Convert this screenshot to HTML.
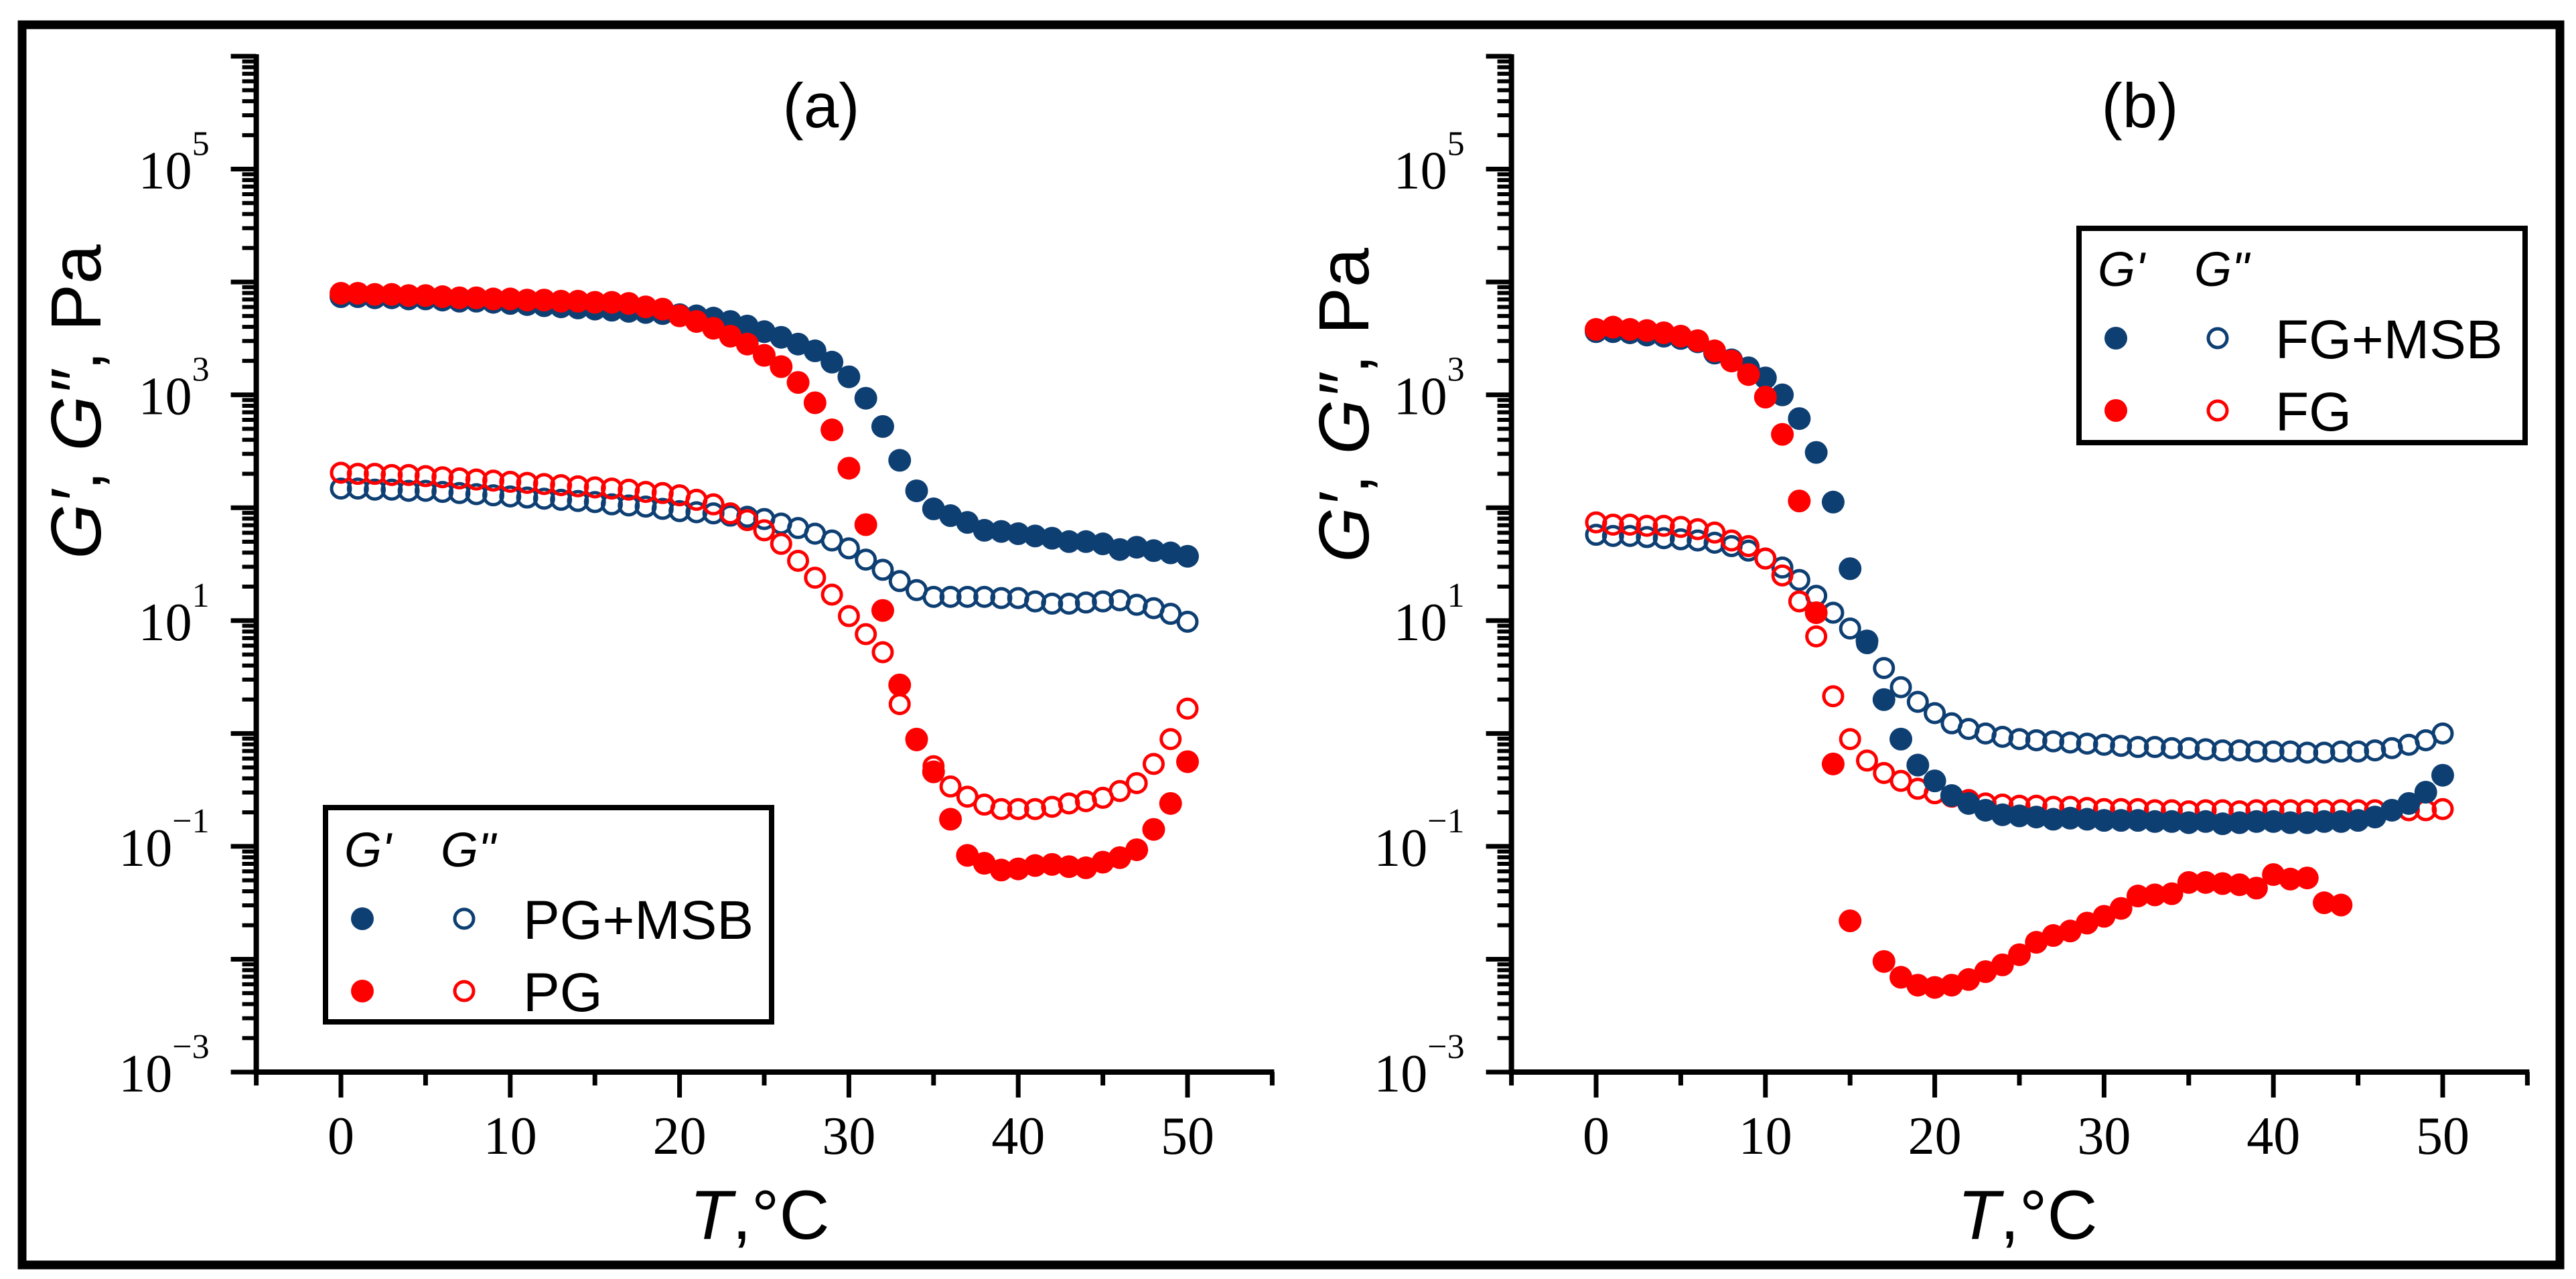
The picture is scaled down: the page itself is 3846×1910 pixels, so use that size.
<!DOCTYPE html>
<html><head><meta charset="utf-8">
<style>
html,body{margin:0;padding:0;background:#fff;}
svg{display:block;}
</style></head>
<body>
<svg id="fig" xmlns="http://www.w3.org/2000/svg" width="3846" height="1910" viewBox="0 0 3846 1910">
<rect x="33" y="37" width="3789" height="1852" fill="#fff" stroke="#000" stroke-width="13"/>
<g id="panelA"></g>
<g id="panelB"></g>
</svg>
<script>
// ---- data (log10 of modulus, Pa), T = 0..50 °C step 1 ----
const temps = Array.from({length:51},(_,i)=>i);
const yTickExps = [-3,-2,-1,0,1,2,3,4,5,6];
const yLabelExps = [-3,-1,1,3,5];
const xMajorTicks = [0,10,20,30,40,50];
const xMinorTicks = [-5,5,15,25,35,45,55];

const pgmsbG1 = [3.87,3.87,3.86,3.86,3.85,3.85,3.84,3.83,3.83,3.82,3.81,3.80,3.79,3.78,3.77,3.76,3.75,3.74,3.73,3.72,3.71,
 3.70,3.68,3.65,3.61,3.56,3.51,3.45,3.39,3.29,3.16,2.97,2.72,2.42,2.15,1.99,1.93,1.87,1.80,1.79,1.77,1.75,1.73,1.70,1.70,1.68,1.63,1.65,1.62,1.60,1.57];
const pgG1 = [3.90,3.90,3.89,3.89,3.88,3.88,3.87,3.86,3.86,3.85,3.85,3.84,3.84,3.83,3.83,3.82,3.82,3.81,
 3.78,3.76,3.70,3.65,3.59,3.52,3.45,3.35,3.25,3.11,2.93,2.69,2.35,1.85,1.09,0.43,-0.05,-0.34,-0.76,-1.08,-1.15,-1.21,-1.20,-1.17,-1.16,-1.18,-1.19,-1.14,-1.10,-1.03,-0.85,-0.62,-0.25];
const pgmsbG2 = [2.17,2.17,2.16,2.16,2.15,2.15,2.14,2.13,2.12,2.11,2.10,2.09,2.08,2.07,2.06,2.05,2.03,2.02,2.01,1.99,1.97,
 1.96,1.95,1.93,1.92,1.90,1.86,1.82,1.77,1.71,1.64,1.54,1.45,1.35,1.27,1.21,1.21,1.21,1.21,1.20,1.20,1.17,1.15,1.15,1.16,1.17,1.18,1.14,1.11,1.06,0.99];
const pgG2 = [2.31,2.30,2.30,2.29,2.29,2.28,2.27,2.26,2.25,2.24,2.23,2.22,2.21,2.20,2.19,2.18,2.17,2.16,2.14,2.13,2.11,
 2.07,2.03,1.95,1.89,1.80,1.68,1.53,1.38,1.23,1.04,0.88,0.72,0.26,-0.06,-0.29,-0.47,-0.56,-0.63,-0.67,-0.67,-0.67,-0.65,-0.62,-0.60,-0.57,-0.51,-0.44,-0.27,-0.05,0.22];

const fgmsbG1 = [3.56,3.56,3.55,3.53,3.52,3.50,3.47,3.37,3.31,3.24,
 3.15,3.00,2.79,2.49,2.05,1.46,0.82,0.30,-0.05,-0.28,
 -0.42,-0.55,-0.62,-0.68,-0.72,-0.73,-0.74,-0.76,-0.75,-0.76,
 -0.77,-0.77,-0.77,-0.78,-0.78,-0.79,-0.78,-0.80,-0.79,-0.78,
 -0.78,-0.79,-0.79,-0.78,-0.78,-0.77,-0.74,-0.68,-0.62,-0.52,-0.37];
const fgG1 = [3.58,3.60,3.58,3.57,3.55,3.52,3.48,3.39,3.30,3.18,
 2.98,2.65,2.06,1.07,-0.27,-1.66,null,-2.02,-2.16,-2.23,
 -2.25,-2.23,-2.18,-2.11,-2.05,-1.96,-1.85,-1.79,-1.75,-1.68,
 -1.62,-1.55,-1.44,-1.43,-1.42,-1.32,-1.32,-1.33,-1.34,-1.37,
 -1.25,-1.29,-1.28,-1.50,-1.52,null,null,null,null,null,null];
const fgmsbG2 = [1.76,1.75,1.75,1.74,1.73,1.72,1.71,1.69,1.66,1.62,
 1.55,1.47,1.36,1.22,1.07,0.93,0.80,0.58,0.41,0.28,
 0.18,0.09,0.04,0.00,-0.03,-0.05,-0.06,-0.07,-0.08,-0.09,
 -0.10,-0.11,-0.12,-0.12,-0.13,-0.13,-0.14,-0.15,-0.15,-0.16,
 -0.16,-0.16,-0.17,-0.17,-0.16,-0.16,-0.15,-0.13,-0.10,-0.06,0.00];
const fgG2 = [1.87,1.85,1.85,1.84,1.84,1.83,1.81,1.78,1.71,1.66,
 1.55,1.40,1.17,0.86,0.33,-0.05,-0.24,-0.35,-0.42,-0.49,
 -0.53,-0.56,-0.59,-0.62,-0.63,-0.64,-0.64,-0.65,-0.65,-0.66,
 -0.67,-0.67,-0.67,-0.68,-0.68,-0.69,-0.68,-0.68,-0.69,-0.68,
 -0.68,-0.68,-0.68,-0.68,-0.68,-0.68,-0.68,-0.68,-0.68,-0.68,-0.67];

const NAVY = "#0e3f73", RED = "#ff0000";
const NS = "http://www.w3.org/2000/svg";
const TOP = 84, BOT = 1601, DEC = (BOT-TOP)/9;
function yScale(lg){ return BOT - (lg + 3) * DEC; }

function mk(tag, attrs, parent){
  const e = document.createElementNS(NS, tag);
  for (const k in attrs) e.setAttribute(k, attrs[k]);
  parent.appendChild(e);
  return e;
}

function drawPanel(g, o){
  const xScale = t => o.x0 + t * 25.28;
  const axX = xScale(-5), axR = xScale(55);
  yTickExps.forEach(ex => {
    const y = yScale(ex);
    const t = mk('line',{x1:axX-38,x2:axX,y1:y,y2:y,stroke:'#000','stroke-width':7},g);
    
    
    if (ex < 6) for (let m=2;m<=9;m++){
      const ym = yScale(ex + Math.log10(m));
      const mt = mk('line',{x1:axX-21,x2:axX,y1:ym,y2:ym,stroke:'#000','stroke-width':6},g);
      
      
    }
  });
  yLabelExps.forEach(ex => {
    const y = yScale(ex);
    const tx = mk('text',{x:axX-70,y:y+29,'text-anchor':'end','font-family':'"Liberation Serif",serif','font-size':80},g);
    
    
    const a = mk('tspan',{},tx); a.textContent = '10';
    const b = mk('tspan',{dy:-50,'font-size':52},tx); b.textContent = ex < 0 ? '\u2212' + Math.abs(ex) : String(ex);
  });
  xMajorTicks.forEach(v => {
    const x = xScale(v);
    const t = mk('line',{x1:x,x2:x,y1:BOT,y2:BOT+38,stroke:'#000','stroke-width':7},g);
    
    
    const tx = mk('text',{x:x,y:BOT+122,'text-anchor':'middle','font-family':'"Liberation Serif",serif','font-size':80},g);
    
    
    tx.textContent = String(v);
  });
  xMinorTicks.forEach(v => {
    const x = xScale(v);
    const t = mk('line',{x1:x,x2:x,y1:BOT,y2:BOT+20,stroke:'#000','stroke-width':7},g);
    
    
  });
  const ya = mk('line',{x1:axX,x2:axX,y1:TOP-3,y2:BOT+4,stroke:'#000','stroke-width':8},g);
  
  
  const xa = mk('line',{x1:axX-4,x2:axR+3,y1:BOT,y2:BOT,stroke:'#000','stroke-width':8},g);
  
  
  const tt = mk('text',{x:o.titleX,y:190,'text-anchor':'middle','font-family':'"Liberation Sans",sans-serif','font-size':94},g);
  
  
  tt.textContent = o.title;
  const xt = mk('text',{x:o.xTitleX,y:1850,'text-anchor':'middle','font-family':'"Liberation Sans",sans-serif','font-size':104},g);
  
  
  const xi = mk('tspan',{'font-style':'italic'},xt); xi.textContent='T';
  const xr = mk('tspan',{},xt); xr.textContent=',\u00B0C';
  const yt = mk('text',{x:0,y:0,'text-anchor':'middle','font-family':'"Liberation Sans",sans-serif','font-size':106,transform:`translate(${o.yTitleX},${o.yTitleY}) rotate(-90)`},g);
  
  
  const s1 = mk('tspan',{'font-style':'italic'},yt); s1.textContent='G\u2032';
  const s2 = mk('tspan',{},yt); s2.textContent=', ';
  const s3 = mk('tspan',{'font-style':'italic'},yt); s3.textContent='G\u2033';
  const s4 = mk('tspan',{},yt); s4.textContent=', Pa';
  o.series.forEach(s => {
    const sg = mk('g',{},g);
    
    
    temps.forEach((t,i) => {
      const v = s.data[i];
      if (v === null || v === undefined) return;
      const c = s.filled
        ? mk('circle',{cx:xScale(t),cy:yScale(v),r:17,fill:s.color},sg)
        : mk('circle',{cx:xScale(t),cy:yScale(v),r:14,fill:'none',stroke:s.color,'stroke-width':5},sg);
      
      
    });
  });
  const L = o.legend;
  const lg = mk('g',{},g);
  
  
  mk('rect',{x:L.x,y:L.y,width:L.w,height:L.h,fill:'#fff',stroke:'#000','stroke-width':8},lg);
  const h1 = mk('text',{x:L.c1-27,y:L.hy,'font-family':'"Liberation Sans",sans-serif','font-size':72,'font-style':'italic'},lg);
  
  
  h1.textContent = "G'";
  const h2 = mk('text',{x:L.c2-35,y:L.hy,'font-family':'"Liberation Sans",sans-serif','font-size':72,'font-style':'italic'},lg);
  
  
  h2.textContent = 'G"';
  L.rows.forEach(r => {
    const f = mk('circle',{cx:L.c1,cy:r.y,r:17,fill:r.color},lg);
    
    
    const e = mk('circle',{cx:L.c2,cy:r.y,r:14,fill:'none',stroke:r.color,'stroke-width':5},lg);
    
    
    const t = mk('text',{x:L.tx,y:r.y+30,'font-family':'"Liberation Sans",sans-serif','font-size':82},lg);
    
    
    t.textContent = r.label;
  });
}

drawPanel(document.getElementById('panelA'), {
  x0: 509, title:'(a)', titleX:1226, xTitleX:1134, yTitleX:150, yTitleY:600,
  series:[
    {name:'pg-msb-g-double-prime', data:pgmsbG2, color:NAVY, filled:false},
    {name:'pg-g-double-prime', data:pgG2, color:RED, filled:false},
    {name:'pg-msb-g-prime', data:pgmsbG1, color:NAVY, filled:true},
    {name:'pg-g-prime', data:pgG1, color:RED, filled:true}
  ],
  legend:{x:486,y:1206,w:666,h:320,c1:541,c2:693,hy:1294,tx:781,
    rows:[{y:1372,color:NAVY,label:'PG+MSB'},{y:1480,color:RED,label:'PG'}]}
});
drawPanel(document.getElementById('panelB'), {
  x0: 2383, title:'(b)', titleX:3195, xTitleX:3027, yTitleX:2043, yTitleY:605,
  series:[
    {name:'fg-msb-g-double-prime', data:fgmsbG2, color:NAVY, filled:false},
    {name:'fg-g-double-prime', data:fgG2, color:RED, filled:false},
    {name:'fg-msb-g-prime', data:fgmsbG1, color:NAVY, filled:true},
    {name:'fg-g-prime', data:fgG1, color:RED, filled:true}
  ],
  legend:{x:3104,y:341,w:666,h:320,c1:3159,c2:3311,hy:427,tx:3397,
    rows:[{y:505,color:NAVY,label:'FG+MSB'},{y:613,color:RED,label:'FG'}]}
});
</script>
</body></html>
